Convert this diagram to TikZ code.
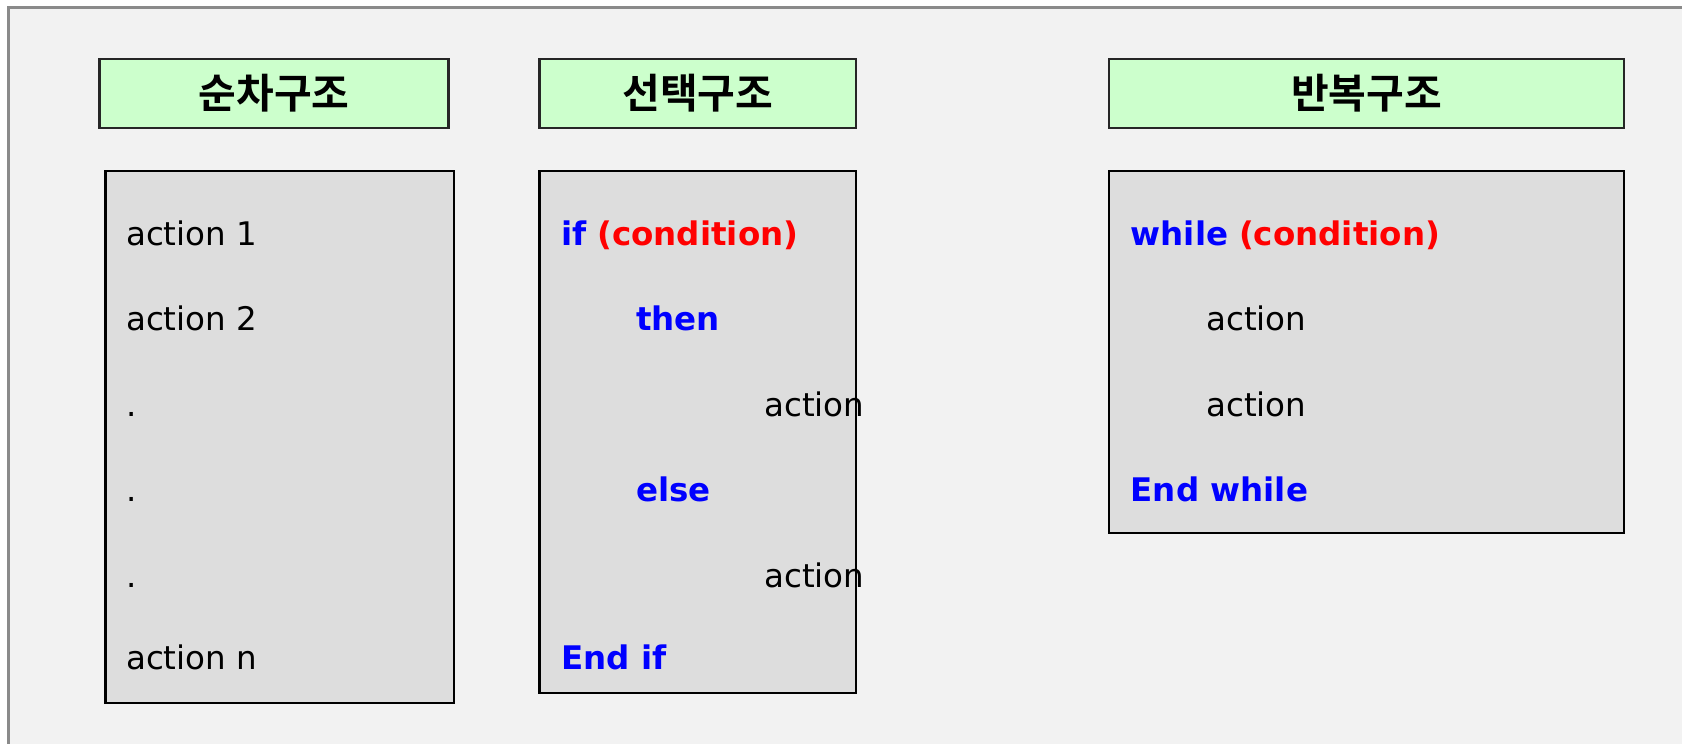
\documentclass[tikz,border=0pt]{standalone}
\usepackage{fontspec}
\setmainfont{DejaVu Sans}
\newfontfamily\kr{Noto Sans CJK KR}[BoldFont={Noto Sans CJK KR Bold}]
\definecolor{framegray}{HTML}{8A8A8A}
\definecolor{bgfill}{HTML}{F2F2F2}
\definecolor{titlefill}{HTML}{CCFFCC}
\definecolor{boxfill}{HTML}{DDDDDD}
\definecolor{kwblue}{HTML}{0000FF}
\definecolor{kwred}{HTML}{FF0000}
\tikzset{
  titlebox/.style={draw=black!85, line width=2.2pt, fill=titlefill, inner sep=0pt,
    font=\kr\bfseries\fontsize{41}{48}\selectfont},
  codebox/.style={draw=black, line width=2.4pt, fill=boxfill, inner sep=0pt},
  txt/.style={anchor=base west, inner sep=0pt, font=\fontsize{32.5}{39}\selectfont},
  kw/.style={txt, font=\bfseries\fontsize{32.5}{39}\selectfont, text=kwblue},
  cond/.style={txt, font=\bfseries\fontsize{32.5}{39}\selectfont, text=kwred},
}
\begin{document}
\begin{tikzpicture}[x=1pt,y=-1pt]
\useasboundingbox (0,0) rectangle (1682,744);
% outer frame
\fill[bgfill] (8.5,7.5) rectangle (1690,752);
\draw[framegray, line width=3pt] (8.5,752) -- (8.5,7.5) -- (1690,7.5);
% title boxes
\node[titlebox, minimum width=349pt, minimum height=68.6pt] (t1) at (274,93.3) {순차구조};
\node[titlebox, minimum width=316.5pt, minimum height=68.6pt] (t2) at (697.75,93.3) {선택구조};
\node[titlebox, minimum width=515pt, minimum height=68.6pt] (t3) at (1366.5,93.3) {반복구조};
% code boxes
\node[codebox, minimum width=348.5pt, minimum height=532pt] (b1) at (279.75,437) {};
\node[codebox, minimum width=316.5pt, minimum height=522pt] (b2) at (697.75,432) {};
\node[codebox, minimum width=515pt, minimum height=362pt] (b3) at (1366.5,352) {};
% sequence
\node[txt] (s1) at (126,245) {action 1};
\node[txt] (s2) at (126,330.8) {action 2};
\node[txt] (s3) at (126,416.6) {.};
\node[txt] (s4) at (126,501.4) {.};
\node[txt] (s5) at (126,587.2) {.};
\node[txt] (s6) at (126,669.8) {action n};
% selection
\node[kw] (c1) at (561,245) {if};
\node[cond] (c1b) at ([xshift=10.5pt]c1.base east) {(condition)};
\node[kw] (c2) at (636,330.8) {then};
\node[txt] (c3) at (764,416.6) {action};
\node[kw] (c4) at (636,501.4) {else};
\node[txt] (c5) at (764,587.2) {action};
\node[kw] (c6) at (561,669.8) {End if};
% repetition
\node[kw] (r1) at (1130.5,245) {while};
\node[cond] (r1b) at ([xshift=10.5pt]r1.base east) {(condition)};
\node[txt] (r2) at (1206,330.8) {action};
\node[txt] (r3) at (1206,416.6) {action};
\node[kw] (r4) at (1130.5,501.4) {End while};
\end{tikzpicture}
\end{document}
